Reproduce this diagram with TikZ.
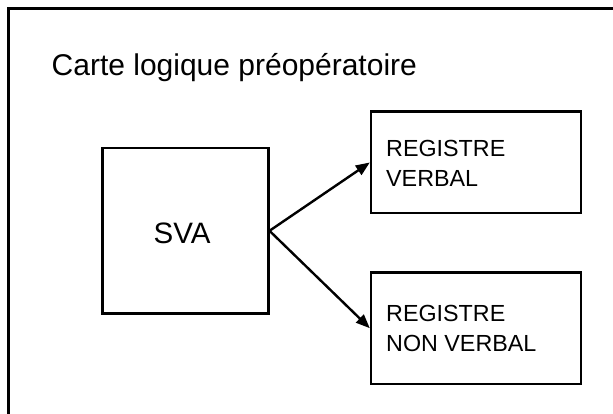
\documentclass[tikz,border=0pt]{standalone}
\usepackage{fontspec}
\setmainfont{Liberation Sans}
\usetikzlibrary{arrows.meta}
\begin{document}
\begin{tikzpicture}[x=1pt,y=-1pt,
  frameline/.style={line width=2.4pt},
  box/.style={draw, line width=2.4pt, inner sep=0pt},
  link/.style={line width=2.4pt, -{Triangle[length=14pt,width=11pt]}},
  boxtext/.style={anchor=base west, inner sep=0pt, font=\fontsize{23.3}{30}\selectfont},
  bigtext/.style={inner sep=0pt, font=\fontsize{30}{36}\selectfont}
]
\useasboundingbox (0,0) rectangle (613,414);

% outer frame (open on the right and bottom)
\draw[frameline] (613,8.5) -- (8.5,8.5) -- (8.5,414);

% title
\node[bigtext, anchor=base west] (title) at (51.5,76) {Carte logique préopératoire};

% source box
\node[box, minimum width=166pt, minimum height=165pt] (sva) at (185.3,230.8) {};
\node[bigtext, anchor=base, font=\fontsize{29.5}{36}\selectfont] (svatext) at (182,243.3) {SVA};

% target boxes
\node[box, minimum width=210pt, minimum height=101.6pt] (verbal) at (476,162.5) {};
\node[boxtext] (verbalA) at (386,156.7) {REGISTRE};
\node[boxtext] (verbalB) at (386,186.7) {VERBAL};

\node[box, minimum width=210pt, minimum height=111.7pt] (nonverbal) at (476,328.2) {};
\node[boxtext] (nonverbalA) at (386,321.7) {REGISTRE};
\node[boxtext] (nonverbalB) at (386,351) {NON VERBAL};

% connectors
\draw[link] (sva.east) -- (verbal.west);
\draw[link] (sva.east) -- (nonverbal.west);
\end{tikzpicture}
\end{document}
